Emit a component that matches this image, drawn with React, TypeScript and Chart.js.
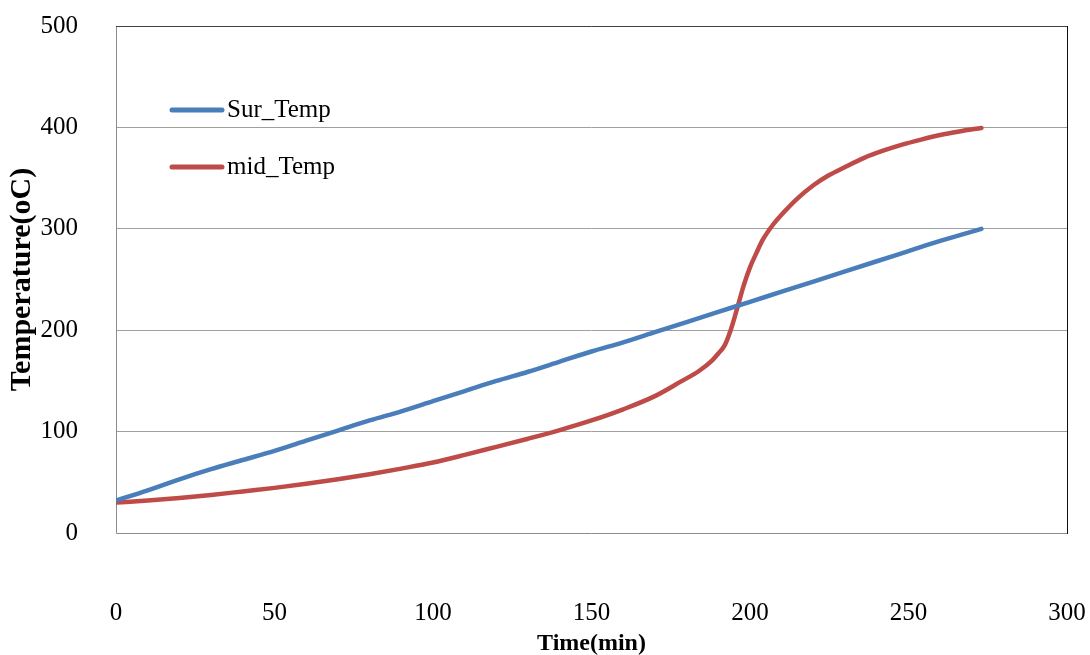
import React, { useEffect, useRef } from "react";
import { Chart, registerables } from "chart.js";

Chart.register(...registerables);

const surTime = [0, 10, 20, 30, 40, 50, 60, 70, 80, 90, 100, 110, 120, 130, 140, 150, 160, 170, 180, 190, 200, 210, 220, 230, 240, 250, 260, 273];
const surTemp = [32, 42, 53, 63, 72, 81, 91, 101, 111, 120, 130, 140, 150, 159, 169, 179, 188, 198, 208, 218, 228, 238, 248, 258, 268, 278, 288, 300];

const midTime = [0, 10, 20, 30, 40, 50, 60, 70, 80, 90, 100, 110, 120, 130, 140, 150, 160, 170, 178, 184, 188, 190, 192, 194, 196, 198, 200, 202, 204, 207, 210, 215, 220, 225, 230, 236, 242, 248, 254, 260, 266, 273];
const midTemp = [30, 32, 34.5, 37.5, 41, 44.5, 48.5, 53, 58, 63.5, 69.5, 77, 85, 93, 101.5, 111, 122, 135, 149, 160, 170, 177, 185, 201, 222, 244, 262, 276, 289, 303, 314, 330, 343, 353, 361, 370, 377, 383, 388, 392.5, 396, 399.5];

const xTicks = [0, 50, 100, 150, 200, 250, 300];
const yTicks = [0, 100, 200, 300, 400, 500];

const seriesLabels = ["Sur_Temp", "mid_Temp"];
const seriesColors = ["#4A7EBB", "#BE4B48"];

const SERIF = "'Liberation Serif', 'Times New Roman', serif";

const framePlugin = {
  id: "plotFrame",
  beforeDatasetsDraw(chart: any) {
    const { ctx, chartArea } = chart;
    const { left, right, top, bottom } = chartArea;
    ctx.save();
    ctx.lineWidth = 1;
    ctx.strokeStyle = "#8c8c8c";
    ctx.beginPath();
    ctx.moveTo(left + 0.5, top);
    ctx.lineTo(left + 0.5, bottom + 0.5);
    ctx.lineTo(right, bottom + 0.5);
    ctx.stroke();
    ctx.strokeStyle = "#404040";
    ctx.beginPath();
    ctx.moveTo(left, top + 0.5);
    ctx.lineTo(right + 0.5, top + 0.5);
    ctx.stroke();
    ctx.strokeStyle = "#111111";
    ctx.beginPath();
    ctx.moveTo(right + 0.5, top);
    ctx.lineTo(right + 0.5, bottom + 1);
    ctx.stroke();
    ctx.restore();
  },
};

const legendPlugin = {
  id: "insideLegend",
  afterDatasetsDraw(chart: any) {
    const { ctx, chartArea } = chart;
    ctx.save();
    chart.data.datasets.forEach((ds: any, i: number) => {
      const y = chartArea.top + 84 + i * 57;
      const x0 = chartArea.left + 56;
      ctx.strokeStyle = ds.borderColor;
      ctx.lineWidth = 5;
      ctx.lineCap = "round";
      ctx.beginPath();
      ctx.moveTo(x0, y);
      ctx.lineTo(x0 + 50, y);
      ctx.stroke();
      ctx.fillStyle = "#000";
      ctx.font = `25px ${SERIF}`;
      ctx.textBaseline = "middle";
      ctx.textAlign = "left";
      ctx.fillText(ds.label, x0 + 55, y);
    });
    ctx.restore();
  },
};

export default function App() {
  const canvasRef = useRef<HTMLCanvasElement | null>(null);

  useEffect(() => {
    if (!canvasRef.current) return;
    const chart = new Chart(canvasRef.current, {
      type: "line",
      data: {
        datasets: [
          {
            label: seriesLabels[0],
            data: surTime.map((t, i) => ({ x: t, y: surTemp[i] })),
            borderColor: seriesColors[0],
            backgroundColor: seriesColors[0],
            borderWidth: 4.5,
            pointRadius: 0,
            cubicInterpolationMode: "monotone",
            borderCapStyle: "round",
          },
          {
            label: seriesLabels[1],
            data: midTime.map((t, i) => ({ x: t, y: midTemp[i] })),
            borderColor: seriesColors[1],
            backgroundColor: seriesColors[1],
            borderWidth: 4.5,
            pointRadius: 0,
            cubicInterpolationMode: "monotone",
            borderCapStyle: "round",
          },
        ],
      },
      plugins: [framePlugin, legendPlugin],
      options: {
        responsive: false,
        animation: false,
        layout: { padding: { top: 26, right: 23, left: 0, bottom: 0 } },
        plugins: {
          legend: { display: false },
          tooltip: { enabled: false },
        },
        scales: {
          x: {
            type: "linear",
            min: 0,
            max: 300,
            afterBuildTicks: (scale: any) => {
              scale.ticks = xTicks.map((v) => ({ value: v }));
            },
            afterFit: (scale: any) => {
              scale.height = 122;
              scale.paddingLeft = 0;
              scale.paddingRight = 0;
            },
            grid: { display: false, drawTicks: false },
            border: { display: false },
            ticks: {
              padding: 65,
              color: "#000",
              font: { family: SERIF, size: 25 },
            },
            title: {
              display: true,
              text: "Time(min)",
              color: "#000",
              font: { family: SERIF, size: 24, weight: "bold" },
              padding: { top: 0, bottom: -3 },
            },
          },
          y: {
            type: "linear",
            min: 0,
            max: 500,
            afterBuildTicks: (scale: any) => {
              scale.ticks = yTicks.map((v) => ({ value: v }));
            },
            afterFit: (scale: any) => {
              scale.width = 116;
              scale.paddingTop = 0;
              scale.paddingBottom = 0;
            },
            grid: {
              drawTicks: false,
              lineWidth: 1,
              color: (c: any) =>
                c.tick && (c.tick.value === 0 || c.tick.value === 500) ? "rgba(0,0,0,0)" : "#a0a0a0",
            },
            border: { display: false },
            ticks: {
              padding: 38,
              color: "#000",
              font: { family: SERIF, size: 25 },
            },
            title: {
              display: true,
              text: "Temperature(oC)",
              color: "#000",
              font: { family: SERIF, size: 30, weight: "bold" },
              padding: { top: 4, bottom: 4 },
            },
          },
        },
      },
    } as any);
    return () => chart.destroy();
  }, []);

  return (
    <div style={{ position: "fixed", left: 0, top: 0, width: 1090, height: 655, background: "#fff" }}>
      <canvas ref={canvasRef} width={1090} height={655} />
    </div>
  );
}
